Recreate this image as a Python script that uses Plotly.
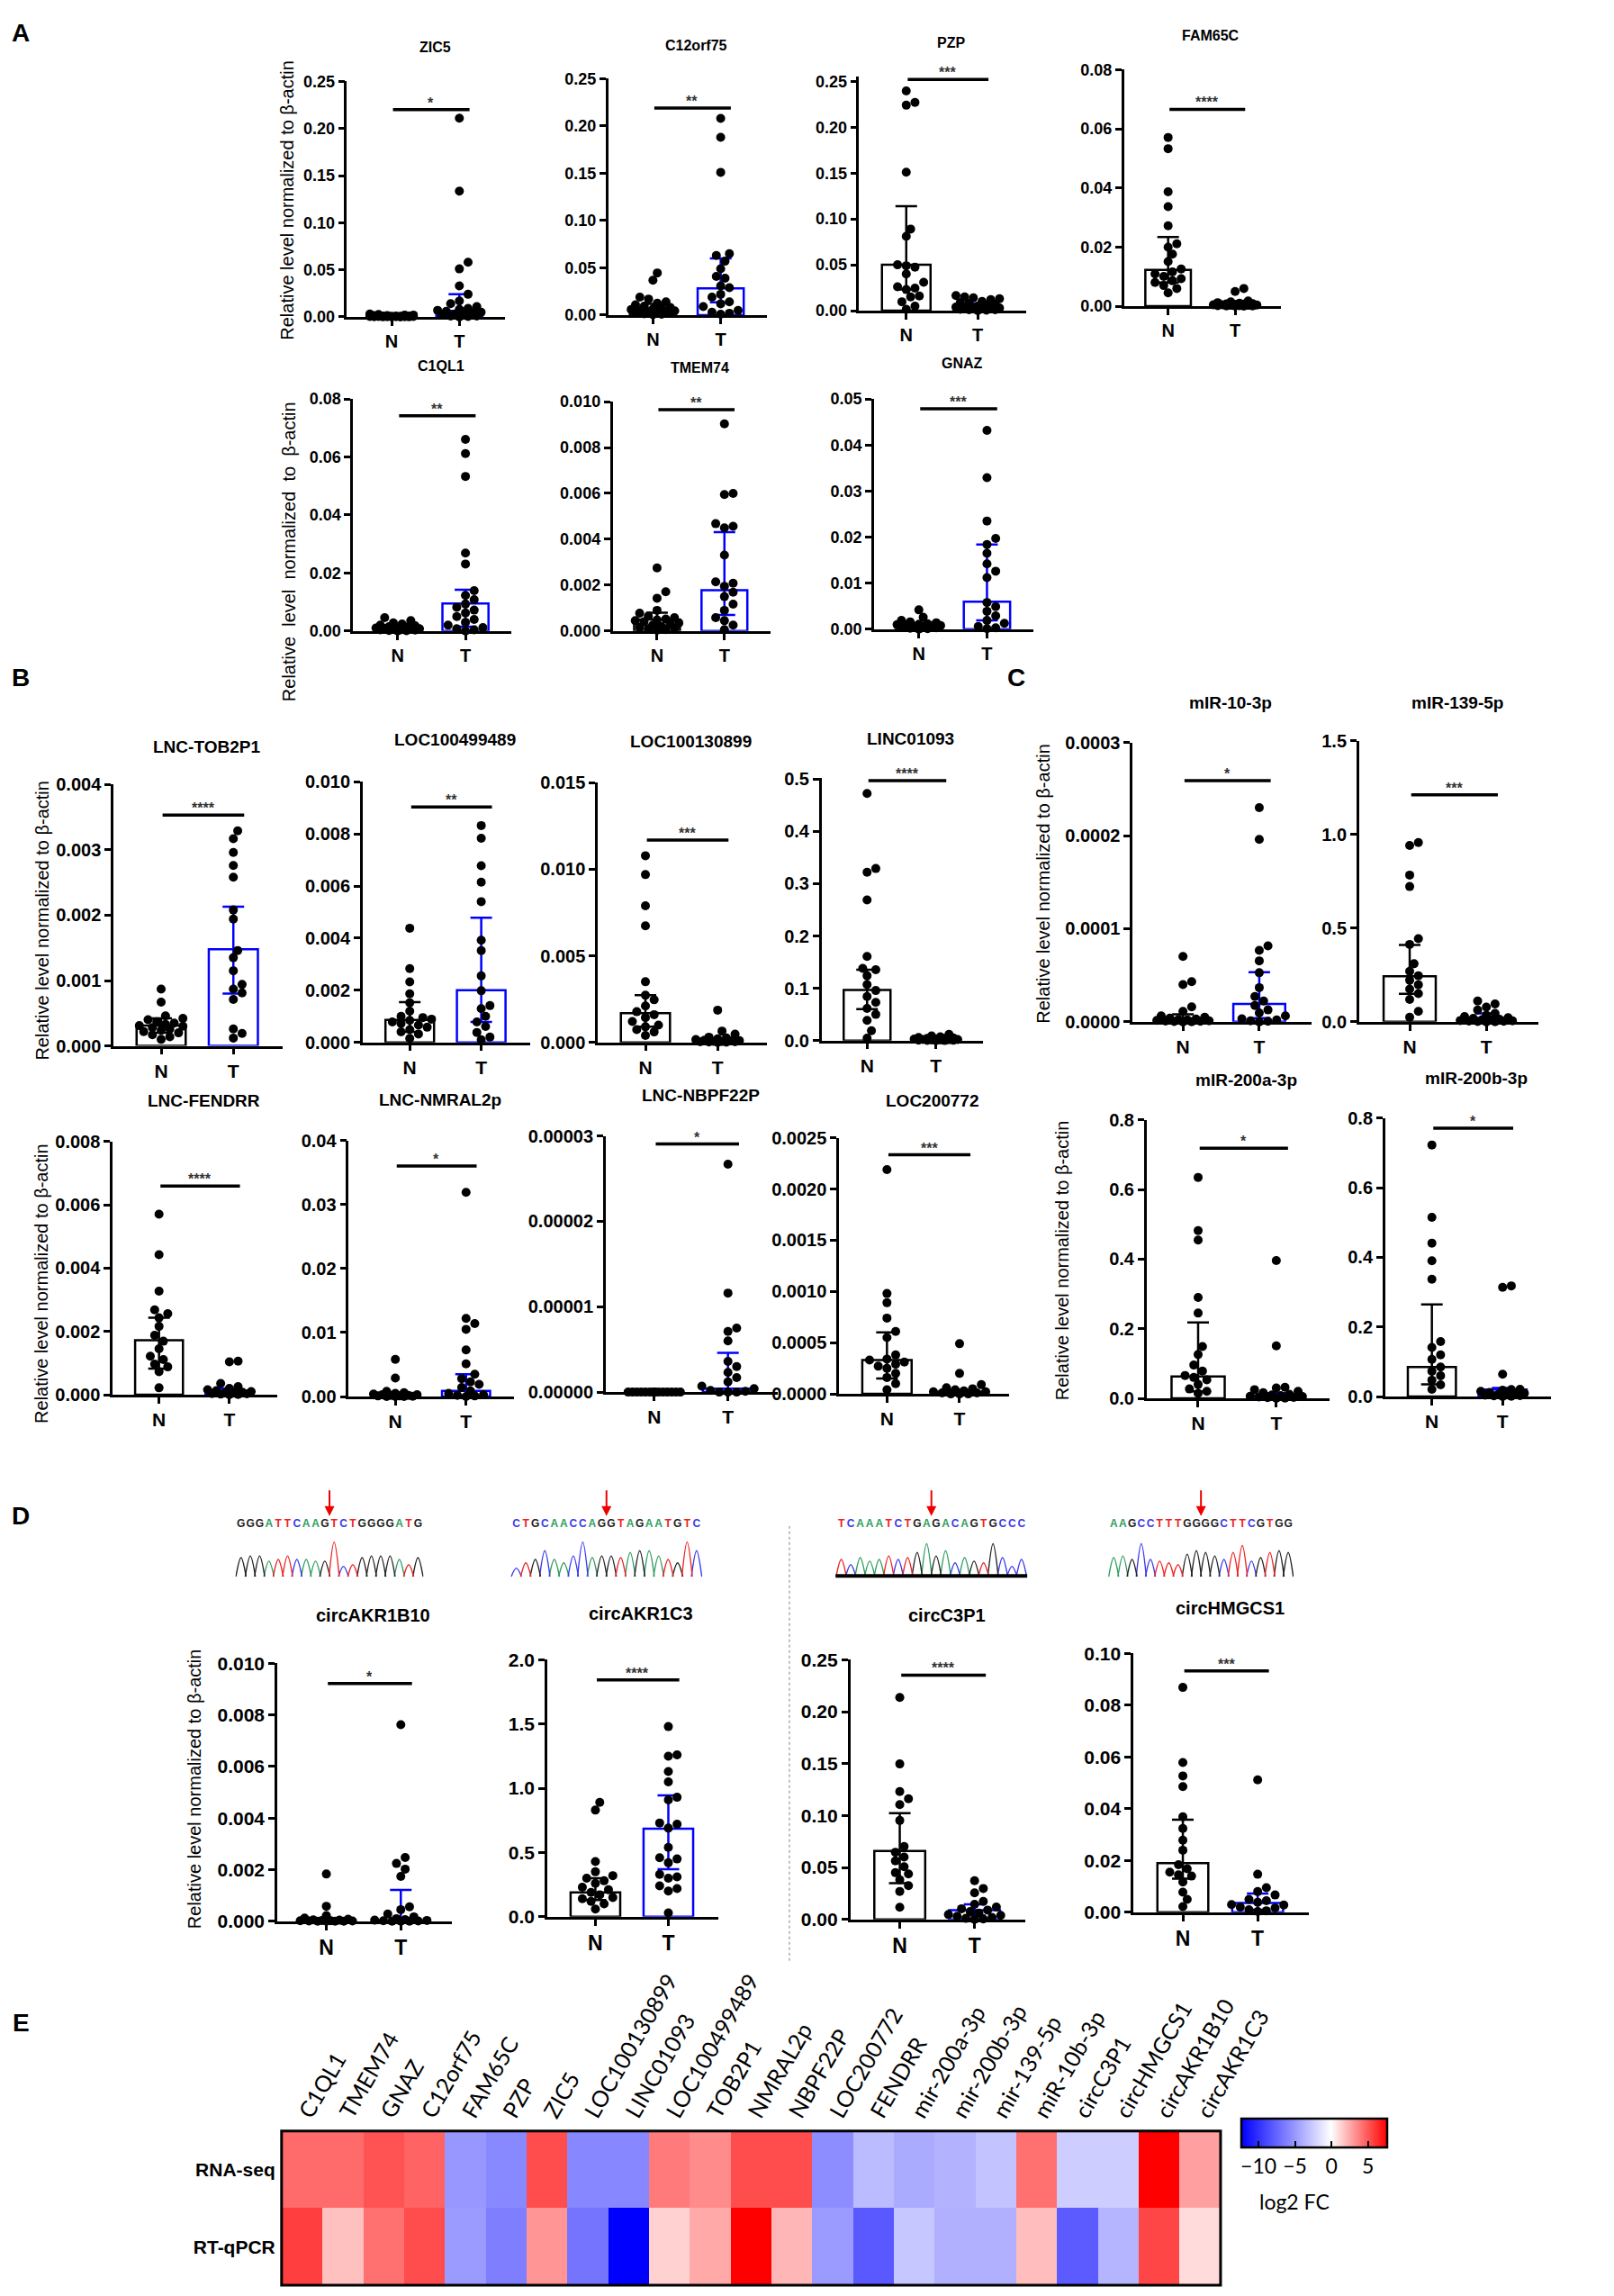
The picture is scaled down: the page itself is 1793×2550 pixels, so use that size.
import plotly.graph_objects as go

FW, FH = 1793, 2550

# ===================== DATA =====================
# Panel A
ZIC5_N = [0.003, 0.0025, 0.002, 0.002, 0.0015, 0.0015, 0.001, 0.001, 0.001, 0.0008, 0.0006,
          0.0005, 0.0005, 0.0004, 0.0003, 0.0003, 0.0002, 0.0002, 0.0001, 0.0001, 0.0, 0.0]
ZIC5_T = [0.211, 0.1335, 0.058, 0.051, 0.033, 0.024, 0.017, 0.014, 0.011, 0.009, 0.008,
          0.007, 0.006, 0.005, 0.004, 0.003, 0.003, 0.002, 0.001, 0.001, 0.0005, 0.0]
ZIC5_STATS = [0.0008, 0.0003, 0.0015, 0.0065, 0.002, 0.024]
ZIC5_SIG = [0.22, "*"]

C12ORF75_N = [0.0446, 0.0368, 0.019, 0.017, 0.014, 0.0125, 0.011, 0.0095, 0.008, 0.007, 0.0065,
              0.006, 0.005, 0.0045, 0.004, 0.0035, 0.003, 0.0025, 0.002, 0.0015, 0.001, 0.0005]
C12ORF75_T = [0.208, 0.188, 0.151, 0.065, 0.063, 0.057, 0.049, 0.041, 0.039, 0.031, 0.029,
              0.022, 0.019, 0.014, 0.012, 0.009, 0.005, 0.003, 0.002, 0.001]
C12ORF75_STATS = [0.007, 0.003, 0.012, 0.0283, 0.0135, 0.060]
C12ORF75_SIG = [0.219, "**"]

PZP_N = [0.2396, 0.227, 0.224, 0.151, 0.089, 0.081, 0.050, 0.049, 0.0475, 0.040, 0.031,
         0.026, 0.0245, 0.023, 0.016, 0.015, 0.0097, 0.005, 0.0016]
PZP_T = [0.0165, 0.015, 0.014, 0.013, 0.012, 0.01, 0.009, 0.008, 0.007, 0.006, 0.005,
         0.004, 0.004, 0.003, 0.003, 0.002, 0.002, 0.0015, 0.001, 0.001, 0.0005, 0.0]
PZP_STATS = [0.050, 0.023, 0.114, 0.003, 0.001, 0.008]
PZP_SIG = [0.252, "***"]

FAM65C_N = [0.0571, 0.0533, 0.0387, 0.0337, 0.0272, 0.0211, 0.020, 0.0176, 0.0151, 0.0126,
            0.0116, 0.0109, 0.0101, 0.0093, 0.0086, 0.008, 0.007, 0.006, 0.0045]
FAM65C_T = [0.006, 0.005, 0.0018, 0.0015, 0.0012, 0.001, 0.0009, 0.0008, 0.0007, 0.0006, 0.0005,
            0.0005, 0.0004, 0.0003, 0.0003, 0.0002, 0.0002, 0.0001, 0.0001, 0.0, 0.0]
FAM65C_STATS = [0.0123, 0.008, 0.0234, 0.0005, 0.0002, 0.0012]
FAM65C_SIG = [0.0666, "****"]

C1QL1_N = [0.0046, 0.0036, 0.0028, 0.0024, 0.002, 0.0018, 0.0015, 0.0013, 0.0011, 0.001,
           0.0009, 0.0008, 0.0007, 0.0006, 0.0005, 0.0004, 0.0003, 0.0002, 0.0001, 0.0]
C1QL1_T = [0.0661, 0.0612, 0.0533, 0.0269, 0.0231, 0.0139, 0.0123, 0.0108, 0.0093, 0.0082,
           0.0072, 0.0062, 0.005, 0.004, 0.003, 0.002, 0.0012, 0.0008, 0.0004, 0.0]
C1QL1_STATS = [0.001, 0.0005, 0.0015, 0.0095, 0.0015, 0.0142]
C1QL1_SIG = [0.0742, "**"]

TMEM74_N = [0.00275, 0.00171, 0.00143, 0.0009, 0.00078, 0.00065, 0.00058, 0.00052, 0.00048,
            0.00045, 0.0004, 0.00035, 0.0003, 0.00026, 0.0002, 0.00016, 0.00013, 0.0001,
            0.00006, 0.00003]
TMEM74_T = [0.00903, 0.0060, 0.00595, 0.00468, 0.00457, 0.0045, 0.00331, 0.00214, 0.00208,
            0.00195, 0.00169, 0.0015, 0.00117, 0.0009, 0.00058, 0.00045, 0.00026, 0.00006]
TMEM74_STATS = [0.0005, 0.0002, 0.0008, 0.00178, 0.0007, 0.00431]
TMEM74_SIG = [0.00965, "**"]

GNAZ_N = [0.0042, 0.0026, 0.0019, 0.0016, 0.0014, 0.0012, 0.0011, 0.001, 0.0009, 0.0008,
          0.0007, 0.0006, 0.0005, 0.0004, 0.0003, 0.0002, 0.0001, 0.0]
GNAZ_T = [0.0432, 0.0329, 0.0235, 0.0197, 0.0184, 0.0165, 0.0142, 0.0126, 0.0112, 0.0058,
          0.0049, 0.0039, 0.0029, 0.0019, 0.0013, 0.0006, 0.0003, 0.0001]
GNAZ_STATS = [0.0009, 0.0004, 0.0014, 0.006, 0.0019, 0.0184]
GNAZ_SIG = [0.0479, "***"]

# Panel B (lncRNA)
TOB2P1_N = [0.00087, 0.00067, 0.00046, 0.00042, 0.0004, 0.00037, 0.00035, 0.00033, 0.00031,
            0.0003, 0.00028, 0.00026, 0.00024, 0.00022, 0.0002, 0.00017, 0.00014, 0.0001]
TOB2P1_T = [0.00329, 0.00317, 0.00296, 0.00276, 0.00258, 0.00208, 0.00194, 0.00146, 0.00135,
            0.00115, 0.00094, 0.00087, 0.00081, 0.00071, 0.00026, 0.00019, 0.00012]
TOB2P1_STATS = [0.00031, 0.0002, 0.00042, 0.00148, 0.0008, 0.00213]
TOB2P1_SIG = [0.00353, "****"]

LOC100499489_N = [0.00438, 0.00283, 0.00232, 0.00186, 0.00152, 0.0012, 0.001, 0.00095,
                  0.00089, 0.00084, 0.00078, 0.00072, 0.00066, 0.00058, 0.00049, 0.0004,
                  0.00032, 0.00015]
LOC100499489_T = [0.00832, 0.00783, 0.00678, 0.00615, 0.0054, 0.00392, 0.00352, 0.00255,
                  0.00198, 0.00141, 0.00129, 0.001, 0.00078, 0.00061, 0.00038, 0.0002, 0.0001]
LOC100499489_STATS = [0.00086, 0.0004, 0.00154, 0.002, 0.00078, 0.00478]
LOC100499489_SIG = [0.00903, "**"]

LOC100130899_N = [0.01078, 0.00969, 0.00789, 0.00673, 0.0035, 0.00272, 0.00246, 0.0021,
                  0.00177, 0.0016, 0.00143, 0.0012, 0.001, 0.0009, 0.00074, 0.0006, 0.0004]
LOC100130899_T = [0.00186, 0.00065, 0.00048, 0.0003, 0.00025, 0.0002, 0.00016, 0.00013,
                  0.0001, 0.00008, 0.00006, 0.00005, 0.00004, 0.00003, 0.00002, 0.00001, 0.0]
LOC100130899_STATS = [0.00169, 0.0009, 0.00272, 0.0001, 0.00003, 0.0002]
LOC100130899_SIG = [0.01168, "***"]

LINC01093_N = [0.4726, 0.329, 0.322, 0.269, 0.161, 0.138, 0.1355, 0.124, 0.107, 0.0957,
               0.0843, 0.073, 0.0615, 0.05, 0.0387, 0.0188, 0.0046]
LINC01093_T = [0.012, 0.009, 0.007, 0.006, 0.005, 0.004, 0.004, 0.003, 0.003, 0.002, 0.002,
               0.0015, 0.001, 0.001, 0.0008, 0.0005, 0.0003, 0.0001, 0.0]
LINC01093_STATS = [0.0968, 0.06, 0.1355, 0.002, 0.001, 0.004]
LINC01093_SIG = [0.497, "****"]

FENDRR_N = [0.0057, 0.00442, 0.00327, 0.00268, 0.00256, 0.00243, 0.00216, 0.00188, 0.00169,
            0.00145, 0.00122, 0.00111, 0.00097, 0.00088, 0.00073, 0.00022]
FENDRR_T = [0.00106, 0.00104, 0.00036, 0.00026, 0.0002, 0.00016, 0.00013, 0.0001, 0.00008,
            0.00006, 0.00005, 0.00004, 0.00003, 0.00002, 0.00001, 0.0]
FENDRR_STATS = [0.00172, 0.00083, 0.00243, 0.0001, 0.00003, 0.0002]
FENDRR_SIG = [0.00659, "****"]

NMRAL2P_N = [0.0058, 0.0029, 0.0008, 0.0006, 0.0005, 0.0004, 0.0003, 0.0003, 0.0002, 0.0002,
             0.0001, 0.0001, 0.00005, 0.0, 0.0, 0.0]
NMRAL2P_T = [0.0319, 0.0122, 0.0114, 0.0105, 0.0073, 0.0051, 0.0035, 0.0028, 0.0023, 0.0019,
             0.0014, 0.0009, 0.0005, 0.0003, 0.0002, 0.0001, 0.0]
NMRAL2P_STATS = [0.0002, 0.0001, 0.0005, 0.0009, 0.0002, 0.0035]
NMRAL2P_SIG = [0.036, "*"]

NBPF22P_N = [0.0, 0.0, 0.0, 0.0, 0.0, 0.0, 0.0, 0.0, 0.0, 0.0, 0.0, 0.0, 0.0, 0.0, 0.0,
             0.0, 0.0, 0.0]
NBPF22P_T = [0.0000267, 0.0000116, 0.0000075, 0.0000071, 0.000006, 0.0000036, 0.000003,
             0.0000023, 0.0000017, 0.0000012, 0.0000007, 0.0000004, 0.0000002, 0.0000001,
             0.0, 0.0, 0.0]
NBPF22P_STATS = [0.0, 0.0, 0.0, 0.0000004, 0.0000001, 0.0000046]
NBPF22P_SIG = [0.00002906, "*"]

LOC200772_N = [0.00219, 0.00098, 0.00089, 0.00074, 0.00061, 0.00055, 0.00038, 0.00034,
               0.00033, 0.00031, 0.00029, 0.00027, 0.00025, 0.0002, 0.00016, 0.0001, 0.00004]
LOC200772_T = [0.00049, 0.0002, 0.00009, 0.00006, 0.00005, 0.00004, 0.00003, 0.00002,
               0.00002, 0.00001, 0.00001, 0.0, 0.0, 0.0]
LOC200772_STATS = [0.00033, 0.00015, 0.0006, 0.00002, 0.00001, 0.00004]
LOC200772_SIG = [0.002334, "***"]

# Panel C (miRNA)
MIR10_N = [0.0000703, 0.0000431, 0.00004, 0.000016, 0.0000112, 0.0000064, 0.000005, 0.000004,
           0.000003, 0.0000025, 0.000002, 0.0000015, 0.000001, 0.0000008, 0.0000005,
           0.0000003, 0.0000001, 0.0]
MIR10_T = [0.00023, 0.000196, 0.0000815, 0.0000767, 0.0000655, 0.0000527, 0.0000367,
           0.0000272, 0.0000224, 0.0000176, 0.0000128, 0.0000096, 0.0000064, 0.0000032,
           0.000002, 0.000001, 0.0000005, 0.0]
MIR10_STATS = [0.000003, 0.000001, 0.000008, 0.0000192, 0.000004, 0.0000534]
MIR10_SIG = [0.000259, "*"]

MIR139_N = [0.957, 0.941, 0.783, 0.722, 0.444, 0.413, 0.31, 0.27, 0.246, 0.222, 0.198, 0.175,
            0.151, 0.119, 0.056, 0.024]
MIR139_T = [0.111, 0.095, 0.079, 0.063, 0.045, 0.035, 0.028, 0.022, 0.018, 0.014, 0.011, 0.009,
            0.007, 0.005, 0.004, 0.003, 0.002, 0.001, 0.0]
MIR139_STATS = [0.243, 0.15, 0.41, 0.02, 0.005, 0.045]
MIR139_SIG = [1.211, "***"]

MIR200A_N = [0.635, 0.482, 0.455, 0.29, 0.245, 0.149, 0.126, 0.0956, 0.0785, 0.0657, 0.06,
             0.053, 0.04, 0.027, 0.02, 0.0145]
MIR200A_T = [0.396, 0.151, 0.032, 0.03, 0.025, 0.02, 0.016, 0.012, 0.01, 0.008, 0.006, 0.005,
             0.004, 0.003, 0.002, 0.001, 0.0]
MIR200A_STATS = [0.063, 0.02, 0.218, 0.008, 0.002, 0.015]
MIR200A_SIG = [0.719, "*"]

MIR200B_N = [0.723, 0.515, 0.441, 0.39, 0.337, 0.158, 0.141, 0.12, 0.107, 0.085, 0.073, 0.06,
             0.047, 0.034, 0.021]
MIR200B_T = [0.318, 0.314, 0.064, 0.021, 0.02, 0.018, 0.015, 0.012, 0.01, 0.008, 0.006, 0.005,
             0.004, 0.003, 0.002, 0.001, 0.0]
MIR200B_STATS = [0.085, 0.035, 0.265, 0.02, 0.005, 0.025]
MIR200B_SIG = [0.771, "*"]

# Panel D (circRNA)
AKR1B10_N = [0.00183, 0.00058, 0.00022, 0.00012, 0.00008, 0.00005, 0.00004, 0.00003, 0.00002,
             0.00002, 0.00001, 0.00001, 0.0, 0.0, 0.0, 0.0]
AKR1B10_T = [0.00762, 0.00247, 0.00224, 0.00202, 0.00174, 0.00056, 0.00045, 0.00028, 0.00017,
             0.0001, 0.00006, 0.00004, 0.00003, 0.00002, 0.00001, 0.0, 0.0, 0.0]
AKR1B10_STATS = [0.00001, 0.0, 0.00002, 0.00003, 0.00001, 0.00121]
AKR1B10_SIG = [0.00922, "*"]

AKR1C3_N = [0.89, 0.83, 0.43, 0.35, 0.32, 0.3, 0.28, 0.26, 0.23, 0.21, 0.19, 0.17, 0.15, 0.14,
            0.12, 0.1, 0.06]
AKR1C3_T = [1.48, 1.26, 1.25, 1.13, 1.05, 0.93, 0.91, 0.73, 0.72, 0.69, 0.54, 0.46, 0.45, 0.42,
            0.33, 0.31, 0.3, 0.24, 0.22, 0.2, 0.03]
AKR1C3_STATS = [0.19, 0.13, 0.3, 0.685, 0.37, 0.944]
AKR1C3_SIG = [1.843, "****"]

C3P1_N = [0.2138, 0.1497, 0.1232, 0.1162, 0.1106, 0.0953, 0.0702, 0.0647, 0.06, 0.0563, 0.0507,
          0.045, 0.0438, 0.0382, 0.0326, 0.027, 0.0117]
C3P1_T = [0.0373, 0.0298, 0.0256, 0.0173, 0.0145, 0.012, 0.0103, 0.009, 0.0075, 0.006, 0.0047,
          0.004, 0.003, 0.002, 0.001, 0.0005, 0.0]
C3P1_STATS = [0.066, 0.035, 0.1023, 0.0089, 0.004, 0.0145]
C3P1_SIG = [0.2352, "****"]

HMGCS1_N = [0.0869, 0.0579, 0.0527, 0.0486, 0.0369, 0.0324, 0.0279, 0.024, 0.0184, 0.0168,
            0.0155, 0.0145, 0.014, 0.0117, 0.0078, 0.005, 0.0022]
HMGCS1_T = [0.0512, 0.0147, 0.0095, 0.008, 0.0067, 0.005, 0.0045, 0.0039, 0.003, 0.0028,
            0.002, 0.0017, 0.001, 0.0006, 0.0003]
HMGCS1_STATS = [0.019, 0.013, 0.0358, 0.0036, 0.001, 0.0073]
HMGCS1_SIG = [0.0933, "***"]

# Sanger traces (panel D header)
SEQ1 = "GGGATTCAAGTCTGGGGATG"
SEQ1_H = [0.55, 0.6, 0.6, 0.45, 0.5, 0.6, 0.5, 0.5, 0.45, 0.45, 1.0, 0.3, 0.35, 0.55, 0.6,
          0.6, 0.6, 0.5, 0.35, 0.55]
SEQ2 = "CTGCAACCAGGTAGAATGTC"
SEQ2_H = [0.25, 0.4, 0.5, 0.75, 0.5, 0.4, 0.6, 1.0, 0.55, 0.6, 0.6, 0.55, 0.7, 0.75, 0.75, 0.6,
          0.5, 0.4, 1.0, 0.75]
SEQ3 = "TCAAATCTGAGACAGTGCCC"
SEQ3_H = [0.5, 0.35, 0.55, 0.45, 0.5, 0.6, 0.5, 0.55, 0.7, 0.95, 0.6, 0.75, 0.4, 0.55, 0.45,
          0.4, 0.95, 0.55, 0.3, 0.5]
SEQ4 = "AAGCCTTTGGGGCTTCGTGG"
SEQ4_H = [0.55, 0.6, 0.5, 0.95, 0.5, 0.45, 0.4, 0.35, 0.65, 0.75, 0.7, 0.6, 0.5, 0.7, 0.9,
          0.45, 0.55, 0.7, 0.75, 0.7]

# Panel E heatmap (log2 FC)
E_GENES = ["C1QL1", "TMEM74", "GNAZ", "C12orf75", "FAM65C", "PZP", "ZIC5", "LOC100130899",
           "LINC01093", "LOC100499489", "TOB2P1", "NMRAL2p", "NBPF22P", "LOC200772", "FENDRR",
           "mir-200a-3p", "mir-200b-3p", "mir-139-5p", "miR-10b-3p", "circC3P1", "circHMGCS1",
           "circAKR1B10", "circAKR1C3"]
E_ROWS = ["RNA-seq", "RT-qPCR"]
RNASEQ_FC = [4.5, 4.5, 5.2, 4.7, -5.0, -5.7, 5.4, -5.8, -5.8, 4.0, 3.5, 5.4, 5.4, -5.5, -3.3,
             -4.1, -3.7, -2.9, 4.3, -2.4, -2.4, 7.7, 2.9]
RTQPCR_FC = [5.8, 1.9, 4.3, 5.4, -4.8, -6.2, 3.2, -6.7, -12.3, 1.4, 2.6, 7.7, 2.2, -4.8, -8.0,
             -2.7, -3.8, -3.8, 2.0, -7.9, -3.6, 5.6, 1.1]
E_TICKS = [-10, -5, 0, 5]
E_ZMIN, E_ZMAX = -12.3, 7.7

# ===================== STYLE / LAYOUT =====================
BOLD = "Liberation Sans Narrow, Liberation Sans, Arial, sans-serif"
REG = "Liberation Sans, Arial, sans-serif"
CAL = "Lato, Open Sans, sans-serif"
BLUE = "#0000ff"
STYLE = {"A": dict(tick=18, title=16, nt=20),
         "B": dict(tick=20, title=19, nt=21),
         "D": dict(tick=21, title=20, nt=23)}

# title, N, T, stats, sig, ymax, ystep, decimals, style, (x0, x1, ytop, yzero, ytitle) in px
PANELS = [
    ("ZIC5", ZIC5_N, ZIC5_T, ZIC5_STATS, ZIC5_SIG, 0.25, 0.05, 2, "A", (390, 572, 71, 335, 33)),
    ("C12orf75", C12ORF75_N, C12ORF75_T, C12ORF75_STATS, C12ORF75_SIG, 0.25, 0.05, 2, "A", (690, 872, 68, 333, 31)),
    ("PZP", PZP_N, PZP_T, PZP_STATS, PZP_SIG, 0.25, 0.05, 2, "A", (978, 1170, 71, 328, 28)),
    ("FAM65C", FAM65C_N, FAM65C_T, FAM65C_STATS, FAM65C_SIG, 0.08, 0.02, 2, "A", (1282, 1462, 58, 323, 20)),
    ("C1QL1", C1QL1_N, C1QL1_T, C1QL1_STATS, C1QL1_SIG, 0.08, 0.02, 2, "A", (397, 579, 427, 687, 390)),
    ("TMEM74", TMEM74_N, TMEM74_T, TMEM74_STATS, TMEM74_SIG, 0.010, 0.002, 3, "A", (695, 876, 430, 687, 392)),
    ("GNAZ", GNAZ_N, GNAZ_T, GNAZ_STATS, GNAZ_SIG, 0.05, 0.01, 2, "A", (995, 1178, 427, 685, 387)),
    ("LNC-TOB2P1", TOB2P1_N, TOB2P1_T, TOB2P1_STATS, TOB2P1_SIG, 0.004, 0.001, 3, "B", (122, 316, 859, 1152, 817)),
    ("LOC100499489", LOC100499489_N, LOC100499489_T, LOC100499489_STATS, LOC100499489_SIG, 0.010, 0.002, 3, "B", (408, 600, 856, 1148, 809)),
    ("LOC100130899", LOC100130899_N, LOC100130899_T, LOC100130899_STATS, LOC100130899_SIG, 0.015, 0.005, 3, "B", (678, 872, 857, 1148, 811)),
    ("LINC01093", LINC01093_N, LINC01093_T, LINC01093_STATS, LINC01093_SIG, 0.5, 0.1, 1, "B", (935, 1120, 853, 1146, 808)),
    ("mIR-10-3p", MIR10_N, MIR10_T, MIR10_STATS, MIR10_SIG, 0.0003, 0.0001, 4, "B", (1292, 1497, 812, 1125, 767)),
    ("mIR-139-5p", MIR139_N, MIR139_T, MIR139_STATS, MIR139_SIG, 1.5, 0.5, 1, "B", (1552, 1758, 810, 1125, 767)),
    ("LNC-FENDRR", FENDRR_N, FENDRR_T, FENDRR_STATS, FENDRR_SIG, 0.008, 0.002, 3, "B", (121, 310, 1259, 1543, 1213)),
    ("LNC-NMRAL2p", NMRAL2P_N, NMRAL2P_T, NMRAL2P_STATS, NMRAL2P_SIG, 0.04, 0.01, 2, "B", (392, 582, 1258, 1545, 1212)),
    ("LNC-NBPF22P", NBPF22P_N, NBPF22P_T, NBPF22P_STATS, NBPF22P_SIG, 0.00003, 0.00001, 5, "B", (687, 885, 1253, 1540, 1207)),
    ("LOC200772", LOC200772_N, LOC200772_T, LOC200772_STATS, LOC200772_SIG, 0.0025, 0.0005, 4, "B", (955, 1150, 1255, 1542, 1213)),
    ("mIR-200a-3p", MIR200A_N, MIR200A_T, MIR200A_STATS, MIR200A_SIG, 0.8, 0.2, 1, "B", (1308, 1518, 1235, 1547, 1190)),
    ("mIR-200b-3p", MIR200B_N, MIR200B_T, MIR200B_STATS, MIR200B_SIG, 0.8, 0.2, 1, "B", (1582, 1772, 1233, 1545, 1188)),
    ("circAKR1B10", AKR1B10_N, AKR1B10_T, AKR1B10_STATS, AKR1B10_SIG, 0.010, 0.002, 3, "D", (310, 510, 1844, 2133, 1790)),
    ("circAKR1C3", AKR1C3_N, AKR1C3_T, AKR1C3_STATS, AKR1C3_SIG, 2.0, 0.5, 1, "D", (620, 816, 1840, 2128, 1788)),
    ("circC3P1", C3P1_N, C3P1_T, C3P1_STATS, C3P1_SIG, 0.25, 0.05, 2, "D", (968, 1169, 1840, 2131, 1790)),
    ("circHMGCS1", HMGCS1_N, HMGCS1_T, HMGCS1_STATS, HMGCS1_SIG, 0.10, 0.02, 2, "D", (1293, 1494, 1833, 2123, 1782)),
]

CHROMS = [(SEQ1, SEQ1_H, (262, 478)), (SEQ2, SEQ2_H, (578, 798)),
          (SEQ3, SEQ3_H, (951, 1171)), (SEQ4, SEQ4_H, (1264, 1477))]
BASE_COL = {"A": "#2e9e5e", "C": "#3a3aee", "G": "#222222", "T": "#ee2222"}

XR = [-0.66, 1.68]
DOT = 10


def px(xp):
    return xp / FW


def py(yp):
    return 1 - yp / FH


def swarm(vals, pxy, pxx, d=DOT, half=0.36):
    order = sorted(range(len(vals)), key=lambda k: vals[k])
    step = d * 0.5
    nmax = max(1, int(half * pxx / step))
    cands = [0.0]
    for k in range(1, nmax + 1):
        cands += [k * step, -k * step]
    placed = []
    out = [0.0] * len(vals)
    for k in order:
        y = vals[k] * pxy
        near = [(a, b) for a, b in placed if abs(b - y) < d]
        chosen, bestc, bestd = None, 0.0, -1.0
        for c in cands:
            md = min((((c - a) ** 2 + (y - b) ** 2) ** 0.5 for a, b in near), default=1e9)
            if md >= 0.92 * d:
                chosen = c
                break
            if md > bestd:
                bestd, bestc = md, c
        if chosen is None:
            chosen = bestc
        placed.append((chosen, y))
        out[k] = chosen / pxx
    return out


fig = go.Figure()
layout = {}
annotations = []
shapes = []


def sid(i):
    return "" if i == 1 else str(i)


def note(xp, yp, text, font, **kw):
    d = dict(x=px(xp), y=py(yp), xref="paper", yref="paper", text=text, showarrow=False,
             xanchor="center", yanchor="middle", font=font)
    d.update(kw)
    annotations.append(d)


for i, (title, nv, tv, st, sig, ymax, ystep, dec, sty, geo) in enumerate(PANELS, start=1):
    x0, x1, ytop, yzero, ytit = geo
    s = sid(i)
    S = STYLE[sty]
    pxy = (yzero - ytop) / ymax
    pxx = (x1 - x0) / (XR[1] - XR[0])
    top = max(ymax, sig[0] + 0.012 * ymax)
    ytop_px = yzero - top * pxy
    nt = int(round(ymax / ystep))
    tv_list = [k * ystep for k in range(nt + 1)]
    tt_list = [f"{v:.{dec}f}" for v in tv_list]
    layout["xaxis" + s] = dict(domain=[px(x0), px(x1)], range=XR, anchor="y" + s,
                               tickvals=[0, 1], ticktext=["N", "T"], ticks="outside",
                               ticklen=7, tickwidth=2.5, tickcolor="black", showline=True,
                               linewidth=2.5, linecolor="black", showgrid=False, zeroline=False,
                               tickfont=dict(family=BOLD, size=S["nt"], color="black", weight="bold"))
    layout["yaxis" + s] = dict(domain=[py(yzero), py(ytop_px)], range=[0, top], anchor="x" + s,
                               tickvals=tv_list, ticktext=tt_list, ticks="outside", ticklen=7,
                               tickwidth=2.5, tickcolor="black", showline=True, linewidth=2.5,
                               linecolor="black", showgrid=False, zeroline=False,
                               tickfont=dict(family=BOLD, size=S["tick"], color="black", weight="bold"))
    for grp, med, lo, hi, col in ((0, st[0], st[1], st[2], "black"),
                                  (1, st[3], st[4], st[5], BLUE)):
        fig.add_trace(go.Bar(x=[grp], y=[med], width=0.68, xaxis="x" + s, yaxis="y" + s,
                             marker=dict(color="white", line=dict(color=col, width=2.5)),
                             error_y=dict(type="data", symmetric=False, array=[hi - med],
                                          arrayminus=[med - lo], color=col, thickness=2.5, width=12),
                             hoverinfo="skip"))
    for grp, vals in ((0, nv), (1, tv)):
        offs = swarm(vals, pxy, pxx)
        fig.add_trace(go.Scatter(x=[grp + o for o in offs], y=vals, mode="markers",
                                 marker=dict(size=DOT, color="black"), cliponaxis=False,
                                 xaxis="x" + s, yaxis="y" + s, hoverinfo="skip"))
    fig.add_trace(go.Scatter(x=[0.02, 1.15], y=[sig[0], sig[0]], mode="lines",
                             line=dict(color="black", width=3.5), xaxis="x" + s, yaxis="y" + s,
                             hoverinfo="skip"))
    annotations.append(dict(x=0.58, y=sig[0], xref="x" + s, yref="y" + s, text=sig[1],
                            showarrow=False, xanchor="center", yanchor="bottom", yshift=-3,
                            font=dict(family=BOLD, size=16, color="#333333", weight="bold")))
    note((x0 + x1) / 2 + 10, ytit, title,
         dict(family=BOLD, size=S["title"], color="black", weight="bold"))

# ---- Sanger chromatograms ----
n0 = len(PANELS)
for j, (seq, hs, (cx0, cx1)) in enumerate(CHROMS):
    k = n0 + 1 + j
    s = str(k)
    layout["xaxis" + s] = dict(domain=[px(cx0), px(cx1)], range=[-0.6, len(seq) - 0.4],
                               anchor="y" + s, visible=False)
    layout["yaxis" + s] = dict(domain=[py(1747), py(1680)], range=[0, 1.72], anchor="x" + s,
                               visible=False)
    for base, col in BASE_COL.items():
        xs, ys = [], []
        for idx, (b, h) in enumerate(zip(seq, hs)):
            if b == base:
                xs += [idx - 0.55, idx, idx + 0.55, None]
                ys += [0, h, 0, None]
        fig.add_trace(go.Scatter(x=xs, y=ys, mode="lines", line=dict(color=col, width=1.4,
                                 shape="spline"), xaxis="x" + s, yaxis="y" + s,
                                 hoverinfo="skip", connectgaps=False))
    fig.add_trace(go.Scatter(x=list(range(len(seq))), y=[1.52] * len(seq), mode="text",
                             text=list(seq), textfont=dict(family=BOLD, size=12, weight="bold",
                                                           color=[BASE_COL[b] for b in seq]),
                             cliponaxis=False, xaxis="x" + s, yaxis="y" + s, hoverinfo="skip"))
    annotations.append(dict(x=(len(seq) - 1) / 2, y=py(1679), xref="x" + s, yref="paper",
                            text="", showarrow=True, ax=0, ay=-30, arrowcolor="#ee0000",
                            arrowwidth=2, arrowhead=2, arrowsize=1.1))
    if j == 2:
        shapes.append(dict(type="line", xref="x" + s + " domain", yref="paper", x0=0, x1=1,
                           y0=py(1746), y1=py(1746), line=dict(color="black", width=4)))

# dashed separator in D
shapes.append(dict(type="line", xref="paper", yref="paper", x0=px(898), x1=px(898),
                   y0=py(1690), y1=py(2180), line=dict(color="#aaaaaa", width=1.5, dash="dot")))

# ---- Heatmap (panel E) ----
hk = str(n0 + len(CHROMS) + 1)
layout["xaxis" + hk] = dict(domain=[px(315), px(1393)], anchor="y" + hk, side="top",
                            tickangle=-60, ticks="", showline=False, showgrid=False,
                            zeroline=False, type="category",
                            tickfont=dict(family=CAL, size=25, color="black"))
layout["yaxis" + hk] = dict(domain=[py(2541), py(2368)], anchor="x" + hk, autorange="reversed",
                            ticks="", showline=False, showgrid=False, zeroline=False,
                            type="category", ticklabelstandoff=6,
                            tickfont=dict(family=BOLD, size=21, color="black", weight="bold"))
wpos = -E_ZMIN / (E_ZMAX - E_ZMIN)
fig.add_trace(go.Heatmap(z=[RNASEQ_FC, RTQPCR_FC], x=E_GENES, y=E_ROWS, xaxis="x" + hk,
                         yaxis="y" + hk, zmin=E_ZMIN, zmax=E_ZMAX,
                         colorscale=[[0, "#0000ff"], [wpos, "#ffffff"], [1, "#ff0000"]],
                         hoverinfo="skip",
                         colorbar=dict(orientation="h", x=px(1501), xanchor="center",
                                       y=py(2354), yanchor="top", len=162, lenmode="pixels",
                                       thickness=32, thicknessmode="pixels", outlinewidth=2.5,
                                       outlinecolor="black", tickvals=E_TICKS, ticks="inside",
                                       ticklen=8, tickwidth=2, tickcolor="black", xpad=0, ypad=0,
                                       tickfont=dict(family=CAL, size=23, color="black"))))
shapes.append(dict(type="rect", xref="x" + hk + " domain", yref="y" + hk + " domain",
                   x0=0, x1=1, y0=0, y1=1, line=dict(color="black", width=3)))
note(1478, 2447, "log2 FC", dict(family=CAL, size=23, color="black"))

# ---- y-axis titles ----
YL = "Relative level normalized to β-actin"
YL_WIDE = "Relative&nbsp;&nbsp;level&nbsp;&nbsp;normalized&nbsp;&nbsp;to&nbsp;&nbsp;β-actin"
for (xp, yp, txt) in [(322, 204, YL), (323, 598, YL_WIDE), (40, 1011, YL), (40, 1418, YL),
                      (1190, 970, YL), (1212, 1392, YL), (215, 1985, YL)]:
    note(xp, yp, txt, dict(family=REG, size=20, color="black"), textangle=-90)

# ---- panel letters ----
for (lt, xp, yp) in [("A", 16, 17), ("B", 16, 739), ("C", 1158, 739), ("D", 16, 1679),
                     ("E", 16, 2247)]:
    note(xp, yp, lt, dict(family=REG, size=28, color="black", weight="bold"))

fig.update_layout(width=FW, height=FH, margin=dict(l=0, r=0, t=0, b=0),
                  paper_bgcolor="white", plot_bgcolor="white", showlegend=False,
                  barmode="overlay", annotations=annotations, shapes=shapes,
                  font=dict(family=REG, color="black"), **layout)

fig.write_html("out.html")
